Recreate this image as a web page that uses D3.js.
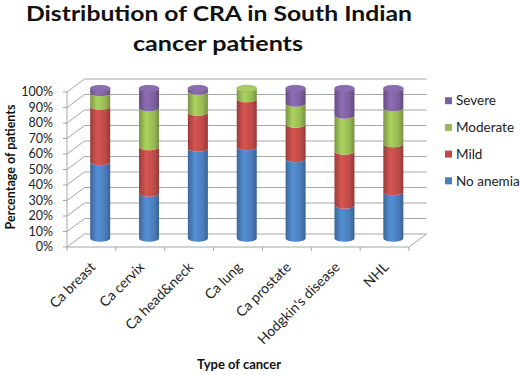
<!DOCTYPE html>
<html><head><meta charset="utf-8">
<script src="https://cdn.jsdelivr.net/npm/d3@7"></script>
<style>body{margin:0;background:#fff}svg{display:block}text{font-family:Lato,"Open Sans",sans-serif}</style>
</head><body>
<svg id="c" width="520" height="375"></svg>
<script>
const categories = ["Ca breast","Ca cervix","Ca head&neck","Ca lung","Ca prostate","Hodgkin's disease","NHL"];
const seriesNames = ["No anemia","Mild","Moderate","Severe"];
const noAnemia = [51, 30, 60, 61, 53, 22, 31];
const mild     = [37, 31, 24, 32, 23, 36, 32];
const moderate = [9, 26, 14, 7, 14, 24, 24];
const severe   = [3, 13, 2, 0, 10, 18, 13];
const yTicks = [0,10,20,30,40,50,60,70,80,90,100];
const colors = ["#4a7ebb","#be4b48","#98b954","#7d60a0"];

const svg = d3.select("#c");
const values = [noAnemia, mild, moderate, severe];
const data = categories.map((c,i)=>{ const o={cat:c}; seriesNames.forEach((s,j)=>o[s]=values[j][i]); return o; });
const stack = d3.stack().keys(seriesNames)(data);

const x0 = 67, x1 = 409, dx = 17.5, dy = -13;
const x = d3.scaleBand().domain(categories).range([x0, x1]);
const yFront = d3.scaleLinear().domain([0,100]).range([247, 92]);
const yBar = d3.scaleLinear().domain([0,100]).range([238.5, 88.5]);

// gradients
const defs = svg.append("defs");
colors.forEach((c,i)=>{
  const g = defs.append("linearGradient").attr("id","g"+i).attr("x1","0").attr("x2","1").attr("y1","0").attr("y2","0");
  const base = d3.color(c);
  g.append("stop").attr("offset","0").attr("stop-color", base.darker(0.6));
  g.append("stop").attr("offset","0.35").attr("stop-color", base.brighter(0.35));
  g.append("stop").attr("offset","0.75").attr("stop-color", base);
  g.append("stop").attr("offset","1").attr("stop-color", base.darker(0.7));
});

const grid = svg.append("g").attr("stroke","#a6a6a6").attr("stroke-width",1).attr("fill","none");
yTicks.forEach(t=>{
  const yf = yFront(t);
  grid.append("path").attr("d",`M${x0},${yf}L${x0+dx},${yf+dy}L${x1+dx},${yf+dy}`);
  grid.append("line").attr("x1",x0-4).attr("x2",x0).attr("y1",yf).attr("y2",yf);
});
// floor
grid.append("path").attr("d",`M${x0},${yFront(0)}L${x1},${yFront(0)}L${x1+dx},${yFront(0)+dy}`);
grid.append("line").attr("x1",x0).attr("x2",x0).attr("y1",yFront(100)).attr("y2",yFront(0));
categories.concat([null]).forEach((c,i)=>{
  const xx = c ? x(c) : x1;
  grid.append("line").attr("x1",xx).attr("x2",xx).attr("y1",yFront(0)).attr("y2",yFront(0)+4);
});

// y tick labels
svg.append("g").selectAll("text").data(yTicks).join("text")
  .attr("x",53).attr("y",d=>yFront(d)).attr("dy","0.35em").attr("text-anchor","end")
  .attr("font-size",12.5).attr("fill","#222").text(d=>d+"%");

// bars
const rx = 10, ry = 3.2;
const bars = svg.append("g");
categories.forEach((c,i)=>{
  const cx = x(c) + x.bandwidth()/2 + dx/2;
  let topIdx = -1;
  stack.forEach((s,j)=>{
    const d = s[i];
    if (d[1]-d[0] <= 0) return;
    topIdx = j;
    const yb = yBar(d[0]), yt = yBar(d[1]);
    bars.append("path").attr("fill",`url(#g${j})`)
      .attr("d",`M${cx-rx},${yt}A${rx},${ry} 0 0 0 ${cx+rx},${yt}L${cx+rx},${yb}A${rx},${ry} 0 0 1 ${cx-rx},${yb}Z`);
  });
  const topY = yBar(stack[topIdx][i][1]);
  const tc = d3.color(colors[topIdx]);
  bars.append("ellipse").attr("cx",cx).attr("cy",topY).attr("rx",rx).attr("ry",ry)
    .attr("fill",tc.brighter(0.3)).attr("stroke",tc.darker(0.3)).attr("stroke-width",0.6);
});

// x labels
svg.append("g").selectAll("text").data(categories).join("text")
  .attr("text-anchor","end").attr("font-size",14).attr("fill","#222")
  .attr("transform",d=>`translate(${x(d)+x.bandwidth()/2+5},${268}) rotate(-45)`)
  .text(d=>d);

// axis titles
svg.append("text").attr("x",239).attr("y",369).attr("text-anchor","middle")
  .attr("font-size",13).attr("font-weight","bold").attr("fill","#111").text("Type of cancer");
svg.append("text").attr("transform","translate(15,167) rotate(-90)").attr("text-anchor","middle")
  .attr("font-size",12.5).attr("font-weight","bold").attr("fill","#111").text("Percentage of patients");

// title
svg.append("text").attr("x",219).attr("y",21).attr("text-anchor","middle")
  .attr("font-size",21.5).attr("font-weight","bold").attr("fill","#111")
  .attr("textLength",386).attr("lengthAdjust","spacingAndGlyphs").text("Distribution of CRA in South Indian");
svg.append("text").attr("x",218).attr("y",51).attr("text-anchor","middle")
  .attr("font-size",21.5).attr("font-weight","bold").attr("fill","#111")
  .attr("textLength",170).attr("lengthAdjust","spacingAndGlyphs").text("cancer patients");

// legend
const legOrder = seriesNames.map((s,i)=>i).reverse();
const leg = svg.append("g");
legOrder.forEach((j,k)=>{
  const yy = 100.7 + k*26.7;
  leg.append("rect").attr("x",445).attr("y",yy-3.5).attr("width",7).attr("height",7).attr("fill",colors[j]);
  leg.append("text").attr("x",456).attr("y",yy).attr("dy","0.35em").attr("font-size",13.5).attr("fill","#222").text(seriesNames[j]);
});
</script>
</body></html>
